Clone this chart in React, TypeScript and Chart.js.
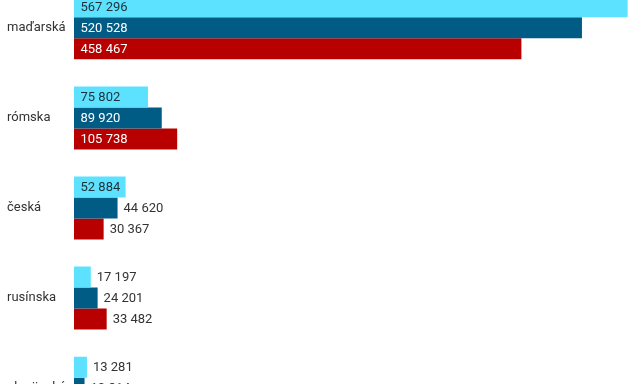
import React, { useEffect, useRef } from "react";
import { Chart, registerables } from "chart.js";

Chart.register(...registerables);

const categories = ["maďarská", "rómska", "česká", "rusínska", "ukrajinská"];
const values1991 = [567296, 75802, 52884, 17197, 13281];
const values2001 = [520528, 89920, 44620, 24201, 10814];
const values2011 = [458467, 105738, 30367, 33482, 7430];
const seriesNames = ["1991", "2001", "2011"];
const seriesColors = ["#5ce2ff", "#005c85", "#b80000"];
const insideTextColors = ["#1e2f38", "#ffffff", "#ffffff"];

const fmt = (v: number) => String(v).replace(/\B(?=(\d{3})+(?!\d))/g, " ");

const labelPlugin = {
  id: "barLabels",
  afterDatasetsDraw(chart: any) {
    const ctx = chart.ctx;
    ctx.save();
    ctx.font = "13px Roboto";
    ctx.textBaseline = "middle";
    ctx.textAlign = "left";
    chart.data.datasets.forEach((ds: any, di: number) => {
      const meta = chart.getDatasetMeta(di);
      meta.data.forEach((bar: any, i: number) => {
        const text = fmt(ds.data[i]);
        const w = ctx.measureText(text).width;
        const barW = bar.x - bar.base;
        if (barW >= w + 8) {
          ctx.fillStyle = insideTextColors[di];
          ctx.fillText(text, bar.base + 6.5, bar.y + 0.5);
        } else {
          ctx.fillStyle = "#333333";
          ctx.fillText(text, bar.x + 6, bar.y + 0.5);
        }
      });
    });
    ctx.restore();
  },
};

export default function App() {
  const ref = useRef<HTMLCanvasElement>(null);
  useEffect(() => {
    document.body.style.margin = "0";
    const chart = new Chart(ref.current!, {
      type: "bar",
      data: {
        labels: categories,
        datasets: [values1991, values2001, values2011].map((d, i) => ({
          label: seriesNames[i],
          data: d,
          backgroundColor: seriesColors[i],
          borderWidth: 0,
          categoryPercentage: 0.7,
          barPercentage: 1,
        })),
      },
      options: {
        indexAxis: "y",
        responsive: false,
        animation: false,
        layout: { padding: { left: 7, right: 0, top: 0, bottom: 0 } },
        plugins: { legend: { display: false }, tooltip: { enabled: false } },
        scales: {
          x: { display: false, min: 0, max: 580000 },
          y: {
            grid: { display: false, drawTicks: false },
            border: { display: false },
            afterFit: (s: any) => {
              s.width = 67;
            },
            ticks: {
              crossAlign: "far",
              padding: 0,
              color: "#333333",
              font: { family: "Roboto", size: 13 },
            },
          },
        },
      },
      plugins: [labelPlugin],
    });
    return () => chart.destroy();
  }, []);
  return (
    <div style={{ width: 640, height: 384, overflow: "hidden", background: "#fff" }}>
      <canvas
        ref={ref}
        width={640}
        height={466}
        style={{ display: "block", marginTop: -25 }}
      />
    </div>
  );
}
